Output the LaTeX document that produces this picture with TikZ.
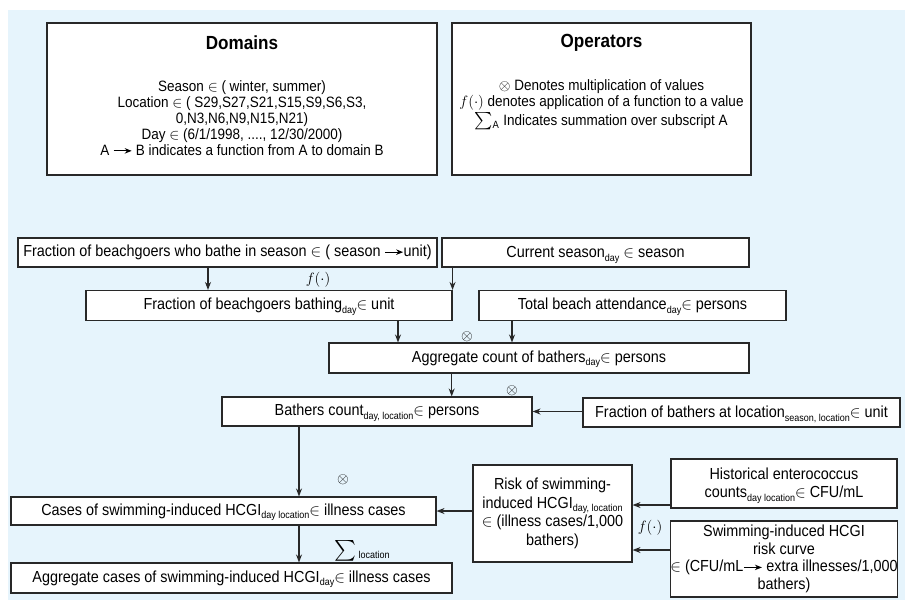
\RequirePackage{fix-cm}
\documentclass[tikz,border=0pt]{standalone}
\usepackage{amsmath}
\usepackage{exscale}
\usepackage{fontspec}
\setmainfont{Liberation Sans}[FakeStretch=0.9]
\usetikzlibrary{arrows.meta}
\definecolor{bg}{RGB}{230,244,252}
\definecolor{ln}{RGB}{40,40,40}
\newcommand{\sbs}[1]{\raisebox{-3.5pt}[0pt][0pt]{\fontsize{10}{10}\selectfont #1}}
\newcommand{\tarr}{\tikz[baseline=-4.5pt]\draw[line width=1pt,-{Stealth[length=7pt,width=5.5pt]}] (0pt,0pt)--(18pt,0pt);}
\newcommand{\bigsum}[1]{\raisebox{0pt}[0pt][0pt]{\fontsize{#1}{#1}\selectfont$\sum$}}
\begin{document}
\begin{tikzpicture}[x=1pt,y=-1pt,
  box/.style={draw=ln,line width=1.1pt,fill=white,inner sep=0pt,align=center,font=\fontsize{16}{17.5}\selectfont},
  arr/.style={draw=ln,line width=1.1pt,-{Stealth[length=8pt,width=6pt]}},
  lbl/.style={inner sep=0pt,font=\fontsize{15}{15}\selectfont}]
\useasboundingbox (0,0) rectangle (905,606);
\fill[bg] (8,10) rectangle (905,600);
% legend boxes
\node[box,minimum width=390pt,minimum height=152pt] (dom) at (242,99) {};
\node[inner sep=0pt,font=\bfseries\fontsize{19}{19}\selectfont] (domt) at (242,43) {Domains};
\node[inner sep=0pt,align=center,font=\fontsize{15}{16}\selectfont] (domb) at (242,118)
 {Season $\in$ ( winter, summer)\\
  Location $\in$ ( S29,S27,S21,S15,S9,S6,S3,\\
  0,N3,N6,N9,N15,N21)\\
  Day $\in$ (6/1/1998, ...., 12/30/2000)\\
  A \tarr\ B indicates a function from A to domain B};
\node[box,minimum width=299pt,minimum height=152pt] (op) at (601.5,99) {};
\node[inner sep=0pt,font=\bfseries\fontsize{19}{19}\selectfont] (opt) at (601.5,43) {Operators};
\node[inner sep=0pt,align=center,font=\fontsize{15}{16.5}\selectfont] (opb) at (601.5,104)
 {$\otimes$ Denotes multiplication of values\\
  $f(\cdot)$ denotes application of a function to a value\\[2pt]
  \bigsum{18}\raisebox{-3pt}[0pt][0pt]{$\scriptstyle\mathrm{A}$} Indicates summation over subscript $\mathrm{A}$};
% flow boxes
\node[box,minimum width=419pt,minimum height=29pt] (fs) at (227.5,252.5)
 {Fraction of beachgoers who bathe in season $\in$ ( season \tarr unit)};
\node[box,minimum width=307pt,minimum height=29pt] (cs) at (595.5,252.5)
 {Current season\sbs{day} $\in$ season};
\node[box,minimum width=366pt,minimum height=30pt] (fb) at (269,305.5)
 {Fraction of beachgoers bathing\sbs{day}$\in$ unit};
\node[box,minimum width=307pt,minimum height=30pt] (ta) at (632.5,305.5)
 {Total beach attendance\sbs{day}$\in$ persons};
\node[box,minimum width=420pt,minimum height=30pt] (ac) at (539,358)
 {Aggregate count of bathers\sbs{day}$\in$ persons};
\node[box,minimum width=310pt,minimum height=29pt] (bc) at (377,411.5)
 {Bathers count\sbs{day, location}$\in$ persons};
\node[box,minimum width=317pt,minimum height=29pt] (fl) at (741.5,412.5)
 {Fraction of bathers at location\sbs{season, location}$\in$ unit};
\node[box,minimum width=159pt,minimum height=97pt,font=\fontsize{16}{18.5}\selectfont] (rk) at (552.5,513.5)
 {Risk of swimming-\\induced HCGI\sbs{day, location}\\$\in$ (illness cases/1,000\\bathers)};
\node[box,minimum width=226pt,minimum height=49pt,font=\fontsize{16}{18}\selectfont] (hi) at (784,483.5)
 {Historical enterococcus\\counts\sbs{day location}$\in$ CFU/mL};
\node[box,minimum width=226pt,minimum height=76pt] (sw) at (784,559)
 {Swimming-induced HCGI\\risk curve\\$\in$ (CFU/mL\tarr\ extra illnesses/1,000\\bathers)};
\node[box,minimum width=425pt,minimum height=28pt] (ca) at (223.5,511)
 {Cases of swimming-induced HCGI\sbs{day location}$\in$ illness cases};
\node[box,minimum width=441pt,minimum height=30pt] (ag) at (231.5,578)
 {Aggregate cases of swimming-induced HCGI\sbs{day}$\in$ illness cases};
% arrow columns
\coordinate (c1) at (208,0);
\coordinate (c2) at (398,0);
\coordinate (c3) at (512,0);
\coordinate (c4) at (451.7,0);
\coordinate (c5) at (299,0);
\coordinate (r1) at (0,505);
\coordinate (r2) at (0,550);
\draw[arr] (fs.south -| c1) -- (fb.north -| c1);
\draw[arr] (cs.south -| fb.north east) -- (fb.north east);
\draw[arr] (fb.south -| c2) -- (ac.north -| c2);
\draw[arr] (ta.south -| c3) -- (ac.north -| c3);
\draw[arr] (ac.south -| c4) -- (bc.north -| c4);
\draw[arr] (fl.west |- bc.east) -- (bc.east);
\draw[arr] (bc.south -| c5) -- (ca.north -| c5);
\draw[arr] (rk.west |- ca.east) -- (ca.east);
\draw[arr] (hi.west |- r1) -- (rk.east |- r1);
\draw[arr] (sw.west |- r2) -- (rk.east |- r2);
\draw[arr] (ca.south -| c5) -- (ag.north -| c5);
% operator labels
\node[lbl] (l1) at (318,280) {$f(\cdot)$};
\node[lbl] (l2) at (467,337) {$\otimes$};
\node[lbl] (l3) at (512,391) {$\otimes$};
\node[lbl] (l4) at (343,480) {$\otimes$};
\node[lbl,anchor=west] (l5) at (334,555) {\bigsum{20}\,\raisebox{-3pt}{\fontsize{10}{10}\selectfont location}};
\node[lbl] (l6) at (650,528) {$f(\cdot)$};
\end{tikzpicture}
\end{document}
